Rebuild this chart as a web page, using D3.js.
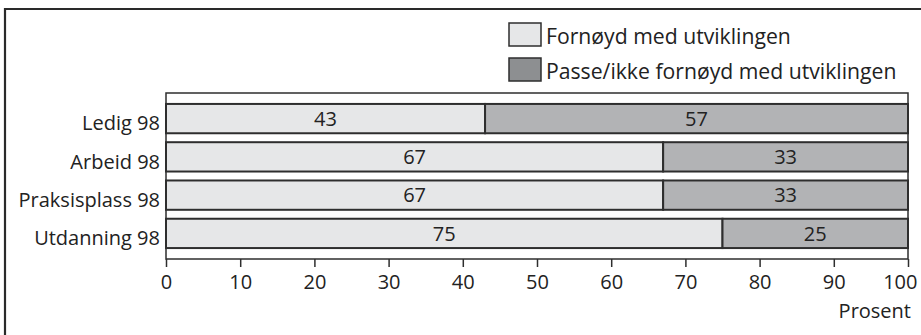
<!DOCTYPE html>
<html>
<head>
<meta charset="utf-8">
<script src="https://cdn.jsdelivr.net/npm/d3@7"></script>
<style>
  html, body { margin: 0; padding: 0; background: #fff; }
  svg { display: block; }
  text { font-family: "Open Sans", "Noto Sans", sans-serif; fill: #222; }
</style>
</head>
<body>
<script>
const categories = ["Ledig 98", "Arbeid 98", "Praksisplass 98", "Utdanning 98"];
const fornoyd = [43, 67, 67, 75];
const passe = [57, 33, 33, 25];
const tickValues = [0, 10, 20, 30, 40, 50, 60, 70, 80, 90, 100];
const seriesNames = ["Fornøyd med utviklingen", "Passe/ikke fornøyd med utviklingen"];
const axisTitle = "Prosent";

const W = 921, H = 335;
const fontSize = 20;
const legendFontSize = 21.2;
const colLight = "#e6e7e8", colDark = "#b2b3b5", colDarkLegend = "#8d8f91";
const stroke = "#2e2e2e";

const svg = d3.select("body").append("svg").attr("width", W).attr("height", H);

// outer frame (left and top visible)
svg.append("path")
  .attr("d", `M5,${H} L5,9 L${W},9`)
  .attr("fill", "none").attr("stroke", "#2a2a2a").attr("stroke-width", 2.2);

const plot = { left: 166, right: 908, top: 93, bottom: 259 };

const x = d3.scaleLinear().domain([0, 100]).range([plot.left, plot.right]);
const y = d3.scaleBand().domain(categories).range([plot.top, plot.bottom])
  .paddingInner(0.234).paddingOuter(0.286);

// plot frame
svg.append("rect")
  .attr("x", plot.left).attr("y", plot.top)
  .attr("width", plot.right - plot.left).attr("height", plot.bottom - plot.top)
  .attr("fill", "none").attr("stroke", stroke).attr("stroke-width", 1.5);

const rows = categories.map((c, i) => ({ cat: c, a: fornoyd[i], b: passe[i] }));

const g = svg.append("g");
rows.forEach(r => {
  const segs = [
    { x0: 0, x1: r.a, v: r.a, fill: colLight },
    { x0: r.a, x1: r.a + r.b, v: r.b, fill: colDark }
  ];
  segs.forEach(s => {
    g.append("rect")
      .attr("x", x(s.x0)).attr("y", y(r.cat))
      .attr("width", x(s.x1) - x(s.x0)).attr("height", y.bandwidth())
      .attr("fill", s.fill).attr("stroke", stroke).attr("stroke-width", 2);
    g.append("text")
      .attr("x", (x(s.x0) + x(s.x1)) / 2)
      .attr("y", y(r.cat) + y.bandwidth() / 2)
      .attr("dy", "0.36em")
      .attr("text-anchor", "middle")
      .style("font-size", fontSize + "px")
      .text(s.v);
  });
  svg.append("text")
    .attr("x", 160)
    .attr("y", y(r.cat) + y.bandwidth() / 2 + 4.5)
    .attr("dy", "0.36em")
    .attr("text-anchor", "end")
    .style("font-size", fontSize + "px")
    .text(r.cat);
});

// x axis
const axis = d3.axisBottom(x).tickValues(tickValues).tickSize(8).tickSizeOuter(0).tickPadding(8);
const ax = svg.append("g").attr("transform", `translate(0,${plot.bottom})`).call(axis);
ax.select(".domain").remove();
ax.selectAll(".tick line").attr("stroke", stroke).attr("stroke-width", 1.5);
ax.selectAll(".tick text").style("font-size", fontSize + "px").style("font-family", '"Open Sans", sans-serif').attr("fill", "#222");
// last label kept inside the frame, as in the reference
ax.selectAll(".tick text").filter(d => d === 100).attr("text-anchor", "end").attr("x", 9);

svg.append("text")
  .attr("x", 911).attr("y", 318)
  .attr("text-anchor", "end")
  .style("font-size", fontSize + "px")
  .text(axisTitle);

// legend
const legendColors = [colLight, colDarkLegend];
const legendY = [23, 58];
seriesNames.forEach((n, i) => {
  svg.append("rect")
    .attr("x", 509).attr("y", legendY[i])
    .attr("width", 32).attr("height", 23)
    .attr("fill", legendColors[i]).attr("stroke", stroke).attr("stroke-width", 1.5);
  svg.append("text")
    .attr("x", 546).attr("y", legendY[i] + 21)
    .style("font-size", legendFontSize + "px")
    .text(n);
});
</script>
</body>
</html>
